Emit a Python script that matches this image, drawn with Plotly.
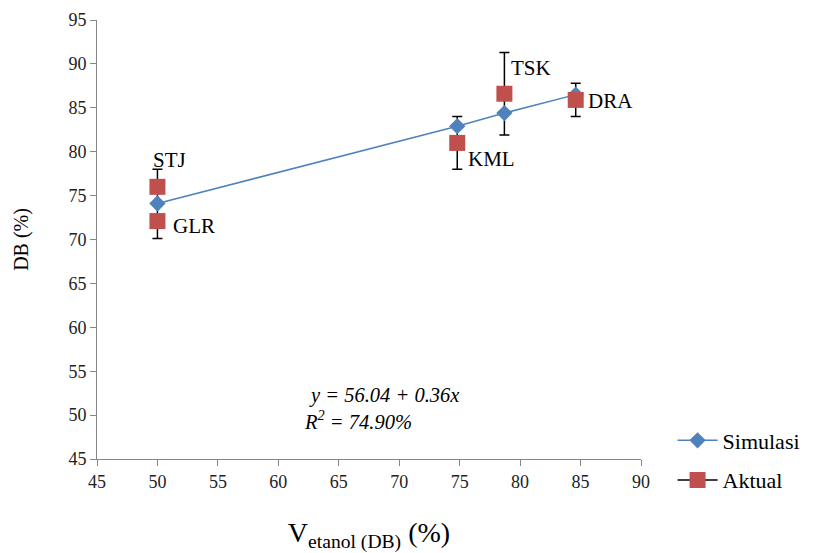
import plotly.graph_objects as go

# Data
sim_x = [50, 74.8, 78.7, 84.6]
sim_y = [74.1, 82.9, 84.4, 86.5]

act_x = [50, 50, 74.8, 78.7, 84.6]
act_y = [76.0, 72.1, 81.0, 86.6, 85.9]
act_err = [2.0, 2.0, 3.0, 4.7, 1.9]
act_labels = ["STJ", "GLR", "KML", "TSK", "DRA"]

eq_text = "y = 56.04 + 0.36x"
r2_text = "R<sup>2</sup> = 74.90%"

x_ticks = [45, 50, 55, 60, 65, 70, 75, 80, 85, 90]
y_ticks = [45, 50, 55, 60, 65, 70, 75, 80, 85, 90, 95]

FONT = "Liberation Serif"
BLUE = "#4F81BD"
RED = "#C0504D"

# Aktual: separate points by None so that no connecting line is drawn,
# but the legend shows a black line through the square (as in the reference)
ax, ay = [], []
for xv, yv in zip(act_x, act_y):
    ax += [xv, None]
    ay += [yv, None]

fig = go.Figure()
# error bars of Aktual drawn first (under the markers)
fig.add_trace(go.Scatter(
    x=act_x, y=act_y, mode="markers", showlegend=False, hoverinfo="skip",
    marker=dict(size=1, color="rgba(0,0,0,0)"),
    error_y=dict(type="data", array=act_err, visible=True, color="black",
                 thickness=1.5, width=5),
))
fig.add_trace(go.Scatter(
    x=sim_x, y=sim_y, mode="lines+markers", name="Simulasi",
    line=dict(color=BLUE, width=1.5),
    marker=dict(symbol="diamond", size=12.5, color=BLUE),
    legendgroup="a",
))
fig.add_trace(go.Scatter(
    x=ax, y=ay, mode="lines+markers", name="Aktual",
    line=dict(color="black", width=1.5),
    marker=dict(symbol="square", size=16, color=RED),
    connectgaps=False,
    legendgroup="b",
))

# point labels
offsets = {
    "STJ": dict(xanchor="center", xshift=12, yshift=27),
    "GLR": dict(xanchor="left", xshift=14, yshift=-5),
    "KML": dict(xanchor="left", xshift=9, yshift=-16),
    "TSK": dict(xanchor="left", xshift=5, yshift=26),
    "DRA": dict(xanchor="left", xshift=10, yshift=-1),
}
for xv, yv, lab in zip(act_x, act_y, act_labels):
    fig.add_annotation(x=xv, y=yv, text=lab, showarrow=False,
                       yanchor="middle", font=dict(family=FONT, size=21, color="black"),
                       **offsets[lab])

fig.add_annotation(x=68.7, y=52.2, text="<i>" + eq_text + "</i>", showarrow=False,
                   font=dict(family=FONT, size=20.5, color="black"))
fig.add_annotation(x=66.6, y=49.4, text="<i>" + r2_text + "</i>", showarrow=False,
                   font=dict(family=FONT, size=20.5, color="black"))

# the page body has an 8px default margin, so the figure is a bit smaller
fig.update_layout(
    width=811, height=545,
    margin=dict(l=89, r=178, t=12, b=94, autoexpand=False),
    paper_bgcolor="white", plot_bgcolor="white",
    font=dict(family=FONT, color="black"),
    showlegend=True,
    legend=dict(x=1.058, y=0.09, xanchor="left", yanchor="top",
                font=dict(family=FONT, size=22, color="black"),
                tracegroupgap=8, itemwidth=40, bgcolor="rgba(0,0,0,0)"),
)
fig.update_xaxes(
    range=[45, 90], tickvals=x_ticks, showgrid=False, zeroline=False,
    showline=True, linecolor="#868686", linewidth=1, automargin=False,
    ticks="outside", ticklen=6, tickcolor="#868686",
    tickfont=dict(family=FONT, size=18, color="#222"),
    title=dict(text="V<sub>etanol (DB)</sub> (%)", standoff=34,
               font=dict(family=FONT, size=28, color="black")),
)
fig.update_yaxes(
    range=[45, 95], tickvals=y_ticks, showgrid=False, zeroline=False,
    showline=True, linecolor="#868686", linewidth=1, automargin=False,
    ticks="outside", ticklen=6, tickcolor="#868686",
    tickfont=dict(family=FONT, size=18, color="#222"),
    title=dict(text="DB (%)", standoff=34,
               font=dict(family=FONT, size=20, color="black")),
)

fig.write_html("out.html")
